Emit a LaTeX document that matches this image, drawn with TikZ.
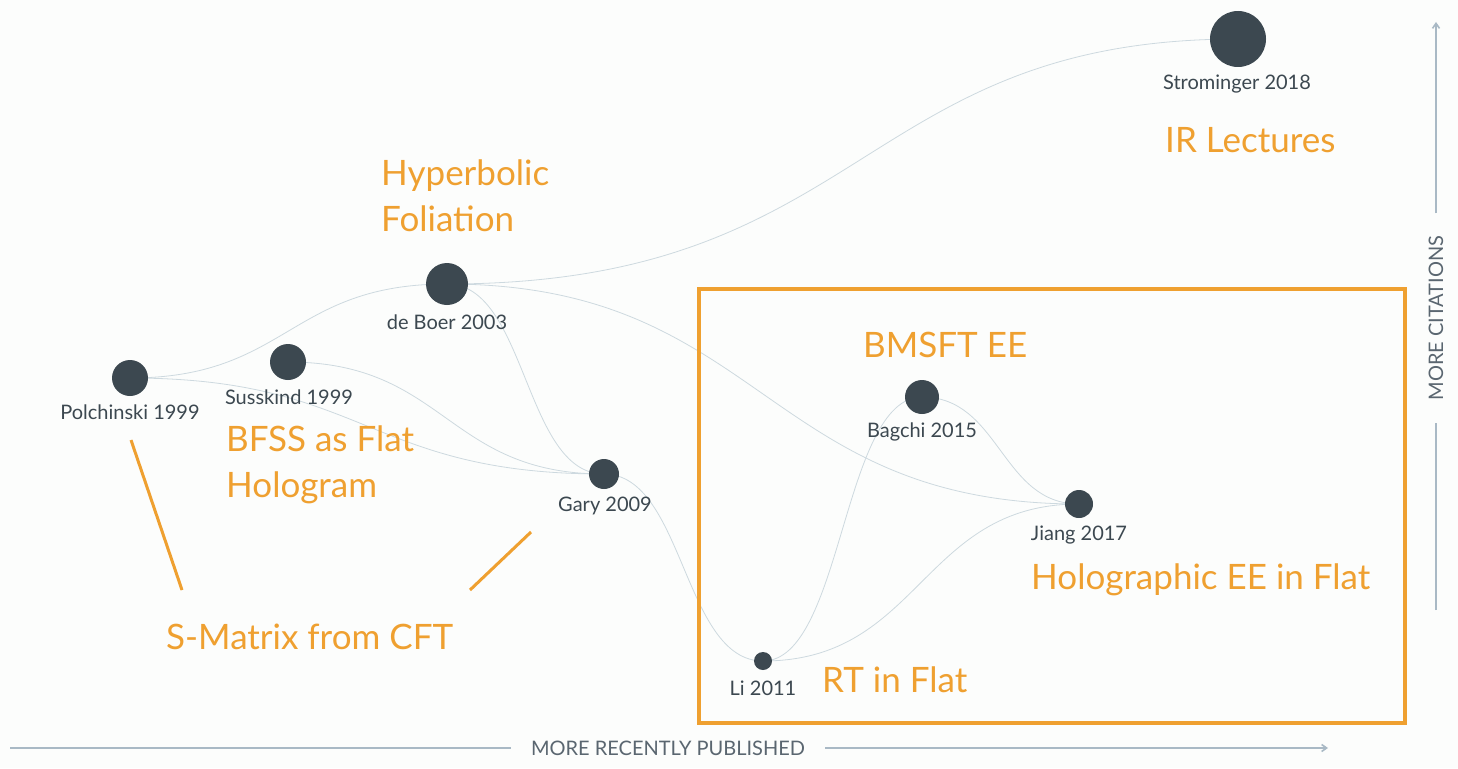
\documentclass[tikz,border=0pt]{standalone}
\usepackage{fontspec}
\setmainfont{Lato}
\newfontfamily\axisfont{Lato}
\usetikzlibrary{backgrounds,arrows.meta}
\definecolor{nodecol}{HTML}{3C4850}
\definecolor{orng}{HTML}{EFA030}
\definecolor{edgecol}{HTML}{CDD9DF}
\definecolor{axiscol}{HTML}{A9B9C5}
\definecolor{axistext}{HTML}{5A6670}
\definecolor{bgcol}{HTML}{FCFDFC}
\tikzset{
  paper/.style={circle,fill=nodecol,inner sep=0pt,minimum size=#1},
  plabel/.style={font=\fontsize{20}{24}\selectfont,text=nodecol,inner sep=0pt},
  topic/.style={font=\fontsize{35}{46}\selectfont,text=orng,inner sep=0pt,anchor=west,align=left},
  link/.style={draw=edgecol,line width=0.8pt},
  pointer/.style={draw=orng,line width=3pt},
  axisline/.style={draw=axiscol,line width=1.6pt},
  axislabel/.style={font=\axisfont\fontsize{20}{22}\selectfont,text=axistext,inner sep=0pt}
}
\begin{document}
\begin{tikzpicture}[x=1pt,y=-1pt]
\useasboundingbox (0,0) rectangle (1458,768);
\begin{scope}[on background layer]
\fill[bgcol] (0,0) rectangle (1458,768);
\end{scope}
% papers
\node[paper=56pt] (strom) at (1238,39) {};
\node[paper=42pt] (deboer) at (447,284) {};
\node[paper=36pt] (polch) at (130,378) {};
\node[paper=36pt] (suss) at (288,362) {};
\node[paper=30pt] (gary) at (604,474) {};
\node[paper=18pt] (li) at (763,661) {};
\node[paper=34pt] (bagchi) at (922,397) {};
\node[paper=28pt] (jiang) at (1079,504) {};
% labels
\node[plabel] (lstrom) at (1237,84) {Strominger 2018};
\node[plabel] (ldeboer) at (447,322) {de Boer 2003};
\node[plabel] (lpolch) at (130,412) {Polchinski 1999};
\node[plabel] (lsuss) at (289,397) {Susskind 1999};
\node[plabel] (lgary) at (605,506) {Gary 2009};
\node[plabel] (lli) at (763,688) {Li 2011};
\node[plabel] (lbagchi) at (922,432) {Bagchi 2015};
\node[plabel] (ljiang) at (1079,535) {Jiang 2017};
% links
\begin{scope}[on background layer]
\path[link] (polch.center) .. controls +(158,0) and +(-158,0) .. (deboer.center);
\path[link] (polch.center) .. controls +(237,0) and +(-237,0) .. (gary.center);
\path[link] (suss.center) .. controls +(158,0) and +(-158,0) .. (gary.center);
\path[link] (deboer.center) .. controls +(420,0) and +(-380,0) .. (strom.center);
\path[link] (deboer.center) .. controls +(80,0) and +(-80,0) .. (gary.center);
\path[link] (deboer.center) .. controls +(316,0) and +(-316,0) .. (jiang.center);
\path[link] (gary.center) .. controls +(80,0) and +(-80,0) .. (li.center);
\path[link] (li.center) .. controls +(80,0) and +(-80,0) .. (bagchi.center);
\path[link] (li.center) .. controls +(158,0) and +(-158,0) .. (jiang.center);
\path[link] (bagchi.center) .. controls +(78,0) and +(-78,0) .. (jiang.center);
\end{scope}
% topics
\node[topic] (tir) at (1165,140) {IR Lectures};
\node[topic] (thyp) at (381,196) {Hyperbolic\\Foliation};
\node[topic] (tbfss) at (226,465) {BFSS as Flat\\Hologram};
\node[topic] (tsm) at (166,637) {S-Matrix from CFT};
\node[topic] (tbms) at (863,345) {BMSFT EE};
\node[topic] (thee) at (1031,580) {Holographic EE in Flat};
\node[topic] (trt) at (822,680) {RT in Flat};
\coordinate (p1a) at (131,440); \coordinate (p1b) at (182,590);
\coordinate (p2a) at (531,532); \coordinate (p2b) at (470,590);
\draw[pointer] (p1a) -- (p1b);
\draw[pointer] (p2a) -- (p2b);
\node[draw=orng,line width=3.5pt,inner sep=0pt,minimum width=706pt,minimum height=434pt] (box) at (1052,506) {};
% axes
\node[axislabel] (xlab) at (668,748) {MORE RECENTLY PUBLISHED};
\coordinate (x0) at (10,748); \coordinate (x1) at (1328,748);
\draw[axisline] (x0) -- ([xshift=-20pt]xlab.west);
\draw[axisline,-{Straight Barb[length=5pt,width=7pt]}] ([xshift=20pt]xlab.east) -- (x1);
\node[axislabel,rotate=90] (ylab) at (1436,318) {MORE CITATIONS};
\coordinate (y0) at (1436,610); \coordinate (y1) at (1436,22);
\draw[axisline] (y0) -- ([yshift=-22pt]ylab.west);
\draw[axisline,-{Straight Barb[length=5pt,width=7pt]}] ([yshift=22pt]ylab.east) -- (y1);
\end{tikzpicture}
\end{document}
